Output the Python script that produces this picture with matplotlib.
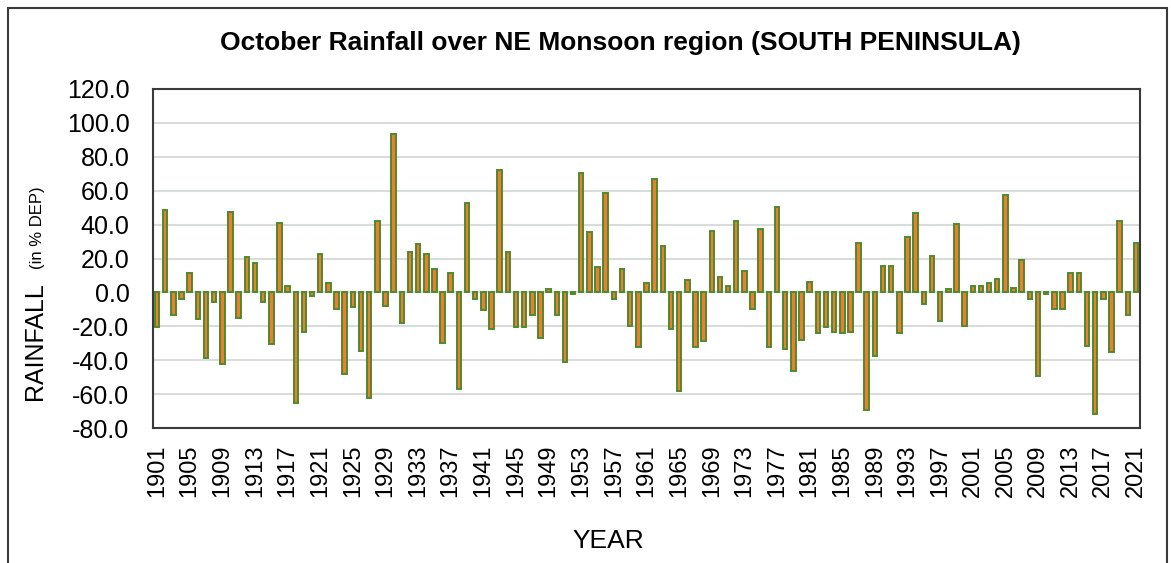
import matplotlib

matplotlib.use("Agg")
import matplotlib.pyplot as plt
from matplotlib.patches import Rectangle
import numpy as np

plt.rcParams["font.family"] = ["Liberation Sans", "DejaVu Sans"]

years = list(range(1901, 2022))
rain_dep = [
    -20.6, 48.4, -13.3, -3.9, 11.2, -15.9, -38.8, -5.9, -42.5, 47.5,
    -14.9, 21.0, 17.5, -5.9, -30.4, 41.0, 3.5, -65.3, -23.1, -2.0,
    22.7, 5.5, -9.6, -48.0, -8.8, -34.3, -62.4, 42.0, -8.0, 93.5,
    -17.8, 23.7, 28.4, 22.9, 13.7, -29.6, 11.2, -57.1, 52.9, -4.1,
    -10.4, -21.6, 72.2, 23.7, -20.4, -20.4, -13.3, -27.1, 1.8, -13.3,
    -40.8, -1.2, 70.4, 35.7, 14.7, 58.6, -3.9, 13.7, -19.8, -32.5,
    5.5, 66.7, 27.5, -21.4, -58.0, 7.3, -32.5, -28.8, 36.5, 9.0,
    3.5, 42.0, 12.7, -9.6, 37.5, -32.5, 50.2, -33.3, -46.3, -27.8,
    6.3, -24.1, -20.4, -23.3, -24.1, -23.3, 29.2, -69.2, -37.8, 15.7,
    15.7, -24.1, 32.9, 46.7, -6.9, 21.2, -16.7, 1.8, 40.2, -19.8,
    3.5, 3.5, 5.5, 8.2, 57.6, 2.5, 19.2, -4.1, -49.6, -1.2,
    -9.6, -9.6, 11.2, 11.2, -31.6, -71.6, -4.1, -35.3, 42.0, -13.3,
    29.2,
]
y_ticks = [120, 100, 80, 60, 40, 20, 0, -20, -40, -60, -80]

W, H = 1171, 563
fig = plt.figure(figsize=(W / 100, H / 100), dpi=100)

# outer chart border
fig.patches.append(Rectangle((8 / W, -0.05), (1167 - 8) / W, 1 - 8 / H + 0.05,
                             transform=fig.transFigure, fill=False,
                             edgecolor="#3a3a3a", linewidth=1.5))

ax = fig.add_axes([153 / W, (H - 428) / H, (1140 - 153) / W, (428 - 89) / H])
ax.bar(years, rain_dep, width=0.55, color="#ED7D31", edgecolor="#4F8A2C", linewidth=1.4, zorder=3)

ax.set_xlim(1900.5, 2021.5)
ax.set_ylim(-80, 120)
ax.set_yticks(y_ticks)
ax.set_yticklabels([f"{v:.1f}" for v in y_ticks])
ax.set_xticks(years[::4])
ax.set_xticklabels([str(y) for y in years[::4]], rotation=90)
ax.tick_params(axis="x", length=0, pad=12, labelsize=17)
ax.tick_params(axis="y", length=0, pad=17, labelsize=18)
ax.yaxis.grid(True, color="#D9DDD9", linewidth=1.5, zorder=0)
ax.set_axisbelow(True)
for s in ax.spines.values():
    s.set_color("#3a3a3a")
    s.set_linewidth(1.5)

fig.text(620 / W, 1 - 50 / H, "October Rainfall over NE Monsoon region (SOUTH PENINSULA)",
         ha="center", va="baseline", fontsize=19, fontweight="bold")
fig.text(42 / W, 1 - 341 / H, "RAINFALL", rotation=90, rotation_mode="anchor",
         ha="center", va="baseline", fontsize=18)
fig.text(42 / W, 1 - 228 / H, "(in % DEP)", rotation=90, rotation_mode="anchor",
         ha="center", va="baseline", fontsize=12)
fig.text(608 / W, 1 - 548 / H, "YEAR", ha="center", va="baseline", fontsize=19)

fig.savefig("out.png", dpi=100)
